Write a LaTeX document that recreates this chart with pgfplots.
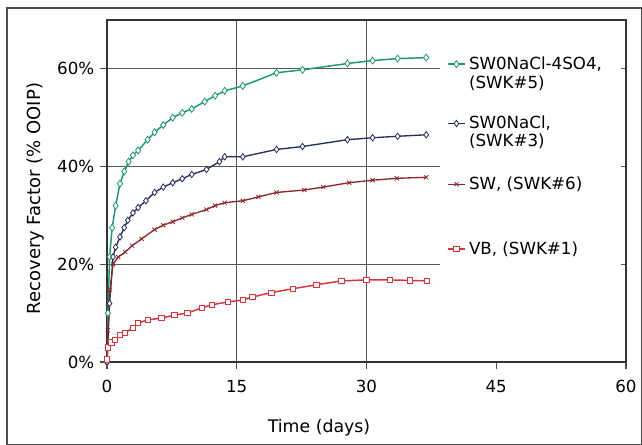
\documentclass[border=0pt]{standalone}
\usepackage{pgfplots}
\pgfplotsset{compat=1.18}
\usepackage{fontspec}
\setmainfont{DejaVu Sans}
\definecolor{cgreen}{RGB}{25,155,105}
\definecolor{cblue}{RGB}{35,45,95}
\definecolor{csw}{RGB}{140,40,45}
\definecolor{cvb}{RGB}{220,50,60}
\newcommand{\lent}[2]{\rule[-3.5pt]{0pt}{#1}#2}
\begin{document}
\begin{tikzpicture}
\useasboundingbox (0,0) rectangle (481.5pt,333.75pt);
\draw[black!70,line width=0.8pt] (5.25pt,0.375pt) rectangle (481.1pt,327.75pt);
\begin{axis}[
  at={(80.25pt,62.25pt)}, anchor=south west,
  scale only axis, width=389.25pt, height=256.5pt,
  xmin=0, xmax=60, ymin=0, ymax=70,
  xtick={0,15,30,45,60}, ytick={0,20,40,60},
  yticklabel={\pgfmathprintnumber{\tick}\%},
  /pgf/number format/assume math mode=true,
  font=\fontsize{12.5}{15}\selectfont,
  xtick pos=bottom, ytick pos=left,
  tick align=outside, major tick length=5pt,
  tick style={black!70, line width=0.9pt},
  grid=major, major grid style={black!65, line width=0.9pt},
  axis line style={black!80, line width=1.2pt},
  xticklabel style={yshift=-5pt},
  yticklabel style={xshift=-1pt},
  xlabel={Time (days)},
  ylabel={Recovery Factor (\% OOIP)},
  every axis x label/.style={at={(rel axis cs:0.4085,-0.193)}, anchor=center, font=\fontsize{13}{15}\selectfont},
  every axis y label/.style={at={(rel axis cs:-0.1377,0.478)}, rotate=90, anchor=center, font=\fontsize{13.5}{15}\selectfont},
  legend style={at={(rel axis cs:0.655,0.893)}, anchor=north west, draw=none, fill=none,
    inner sep=0pt, row sep=0pt, column sep=2.5pt,
    nodes={inner sep=0pt}, cells={anchor=base west},
    font=\fontsize{12.5}{15}\selectfont},
  legend image code/.code={\draw[mark repeat=2,mark phase=2,yshift=4pt] plot coordinates {(0cm,0cm) (0.225cm,0cm) (0.45cm,0cm)};},
]
\fill[white] (axis cs:38.5,0.25) rectangle (axis cs:59.4,69.7);
\addplot[cgreen, line width=1.1pt, mark=diamond*, mark size=2.6pt, mark options={fill=white, line width=0.6pt}] coordinates {
(0,0) (0.1,10) (0.3,21.5) (0.6,27.5) (1.0,32) (1.5,36.5) (2.0,39) (2.5,41) (3.0,42.3) (3.6,43.3)
(4.7,45.5) (5.5,47) (6.5,48.5) (7.6,50) (8.7,51) (9.8,51.8) (11.3,53.3) (12.5,54.5) (13.6,55.5)
(15.7,56.5) (19.6,59.2) (22.6,59.8) (27.8,61.1) (30.7,61.7) (33.6,62.1) (36.9,62.3)};
\addlegendentry{\lent{10pt}{SW0NaCl-4SO4,}}
\addlegendimage{empty legend}
\addlegendentry{\lent{16pt}{(SWK\#5)}}
\addplot[cblue, line width=1pt, mark=diamond*, mark size=2.4pt, mark options={fill=white, line width=0.6pt}] coordinates {
(0,0) (0.3,12) (0.7,21.5) (1.0,23.5) (1.5,25.6) (2.0,27.5) (2.4,29) (3.0,30.5) (3.6,31.6) (4.5,33)
(5.5,34.7) (6.5,35.8) (7.6,36.7) (8.7,37.5) (9.8,38.4) (11.5,39.4) (13.0,41) (13.6,42) (15.7,42)
(19.6,43.5) (22.6,44.1) (27.8,45.5) (30.7,45.9) (33.6,46.2) (36.9,46.5)};
\addlegendentry{\lent{32.5pt}{SW0NaCl,}}
\addlegendimage{empty legend}
\addlegendentry{\lent{15pt}{(SWK\#3)}}
\addplot[csw, line width=1pt, mark=x, mark size=2.2pt, mark options={line width=0.6pt}] coordinates {
(0,0) (0.1,6.5) (0.35,14.8) (0.7,20) (1.3,21.5) (2.1,22.5) (2.9,23.8) (4.0,25.2) (5.5,27.1) (6.5,28)
(7.6,28.7) (8.7,29.5) (9.8,30.2) (11.5,31.2) (12.5,32) (13.6,32.6) (15.7,33) (17.5,33.8) (19.6,34.7)
(22.8,35.2) (25,35.8) (28,36.7) (30.7,37.2) (33.5,37.6) (36.9,37.8)};
\addlegendentry{\lent{34.5pt}{SW, (SWK\#6)}}
\addplot[cvb, line width=1.1pt, mark=square*, mark size=2pt, mark options={fill=white, line width=0.6pt}] coordinates {
(0,0.5) (0.1,3) (0.5,4) (0.9,4.5) (1.5,5.5) (2.1,6) (3.0,7) (3.6,8) (4.7,8.6) (6.3,9) (7.8,9.6)
(9.3,10) (11,11.1) (12.1,11.7) (14,12.3) (15.7,12.7) (16.8,13.3) (19,14.2) (21.5,15) (24.2,15.8)
(27.1,16.6) (30,16.8) (32.7,16.8) (35,16.7) (37,16.6)};
\addlegendentry{\lent{50.5pt}{VB, (SWK\#1)}}
\end{axis}
\end{tikzpicture}
\end{document}
